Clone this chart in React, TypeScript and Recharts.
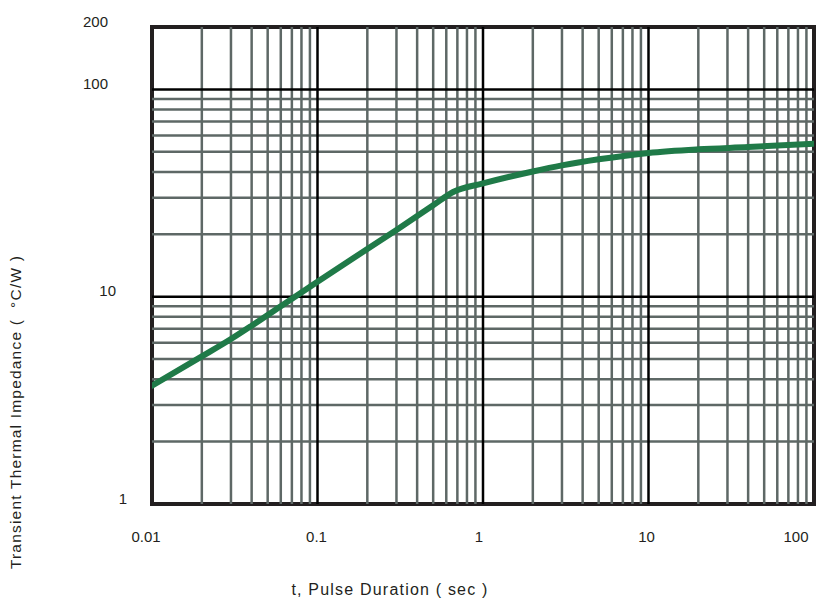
import {
  CartesianGrid,
  Line,
  LineChart,
  ReferenceArea,
  ReferenceLine,
  XAxis,
  YAxis,
} from 'recharts';

// pulse duration (sec) and transient thermal impedance (°C/W)
const pulseSec = [0.01, 0.02, 0.03, 0.04, 0.06, 0.1, 0.2, 0.3, 0.5, 0.66, 1, 2, 3, 5, 10, 20, 40, 100];
const impedance = [3.72, 5.15, 6.25, 7.25, 9.0, 11.8, 17.0, 21.0, 27.6, 32.0, 35.2, 40.2, 43.0, 46.0, 49.4, 51.4, 52.7, 54.7];

const xTicks = [0.01, 0.1, 1, 10, 100];
const yTicks = [1, 10, 100, 200];

const xMajor = [0.1, 1, 10];
const xMinor = [
  0.02, 0.03, 0.04, 0.05, 0.06, 0.07, 0.08, 0.09,
  0.2, 0.3, 0.4, 0.5, 0.6, 0.7, 0.8, 0.9,
  2, 3, 4, 5, 6, 7, 8, 9,
  20, 30, 40, 50, 60, 70, 80, 90,
];
const yMajor = [10, 100];
const yMinor = [2, 3, 4, 5, 6, 7, 8, 9, 20, 30, 40, 50, 60, 70, 80, 90];

const data = pulseSec.map((t, i) => ({ t, z: impedance[i] }));

const FONT = '"Liberation Sans", Arial, sans-serif';
const INK = '#231f20';
const MINOR = '#5e6866';

const xLabelShift: Record<number, number> = { 0.01: -6, 0.1: -1, 1: -4, 10: -2, 100: -12 };
const yLabelRight: Record<number, number> = { 1: 127, 10: 116, 100: 108, 200: 108 };

// eslint-disable-next-line @typescript-eslint/no-explicit-any
function XTick(props: any) {
  const { x, payload } = props;
  const v = payload.value as number;
  return (
    <text
      x={x + (xLabelShift[v] ?? 0)}
      y={536}
      textAnchor="middle"
      dominantBaseline="central"
      fontFamily={FONT}
      fontSize={15}
      fill={INK}
    >
      {String(v)}
    </text>
  );
}

// eslint-disable-next-line @typescript-eslint/no-explicit-any
function YTick(props: any) {
  const { y, payload } = props;
  const v = payload.value as number;
  return (
    <text
      x={yLabelRight[v] ?? 110}
      y={y - 6}
      textAnchor="end"
      dominantBaseline="central"
      fontFamily={FONT}
      fontSize={15}
      fill={INK}
    >
      {String(v)}
    </text>
  );
}

export default function App() {
  return (
    <div style={{ position: 'absolute', left: 0, top: 0, width: 820, height: 601, background: '#fff' }}>
      <LineChart width={820} height={601} data={data} margin={{ top: 27, right: 6, bottom: 47, left: 0 }}>
        <CartesianGrid horizontal={false} vertical={false} />
        <XAxis
          dataKey="t"
          type="number"
          scale="log"
          domain={[0.01, 100]}
          ticks={xTicks}
          allowDataOverflow
          axisLine={false}
          tickLine={false}
          height={50}
          tick={<XTick />}
        />
        <YAxis
          type="number"
          scale="log"
          domain={[1, 200]}
          ticks={yTicks}
          allowDataOverflow
          axisLine={false}
          tickLine={false}
          width={152}
          tick={<YTick />}
        />
        {xMinor.map((v) => (
          <ReferenceLine key={`xm${v}`} x={v} stroke={MINOR} strokeWidth={2.5} />
        ))}
        {yMinor.map((v) => (
          <ReferenceLine key={`ym${v}`} y={v} stroke={MINOR} strokeWidth={2.5} />
        ))}
        {xMajor.map((v) => (
          <ReferenceLine key={`xM${v}`} x={v} stroke="#000" strokeWidth={2.5} />
        ))}
        {yMajor.map((v) => (
          <ReferenceLine key={`yM${v}`} y={v} stroke="#000" strokeWidth={2.5} />
        ))}
        <ReferenceArea
          x1={0.01}
          x2={100}
          y1={1}
          y2={200}
          fill="none"
          stroke={INK}
          strokeWidth={4}
          ifOverflow="visible"
        />
        <Line
          dataKey="z"
          type="monotone"
          stroke="#1f7a48"
          strokeWidth={6}
          strokeLinecap="round"
          dot={false}
          isAnimationActive={false}
        />
      </LineChart>
      <div
        style={{
          position: 'absolute',
          left: 390,
          top: 590,
          transform: 'translate(-50%, -50%)',
          whiteSpace: 'nowrap',
          fontFamily: FONT,
          fontSize: 16,
          letterSpacing: 1.2,
          color: INK,
        }}
      >
        t, Pulse Duration ( sec )
      </div>
      <div
        style={{
          position: 'absolute',
          left: 16,
          top: 412,
          transform: 'translate(-50%, -50%) rotate(-90deg)',
          whiteSpace: 'pre',
          fontFamily: FONT,
          fontSize: 15.5,
          letterSpacing: 1.2,
          color: INK,
        }}
      >
        {'Transient Thermal Impedance (  °C/W )'}
      </div>
    </div>
  );
}
